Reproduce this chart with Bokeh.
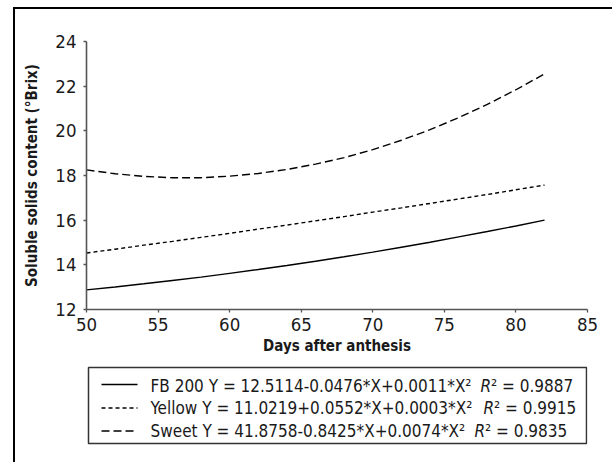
from bokeh.plotting import figure
from bokeh.layouts import column
from bokeh.models import FixedTicker, Range1d, InlineStyleSheet
from bokeh.core.properties import value
from bokeh.embed import file_html
from bokeh.resources import INLINE

# ---- data ----
days = [50, 52, 54, 56, 58, 60, 62, 64, 66, 68, 70, 72, 74, 76, 78, 80, 82]
fb200 = [12.88, 13.01, 13.15, 13.30, 13.45, 13.62, 13.79, 13.97, 14.16, 14.36,
         14.57, 14.79, 15.01, 15.25, 15.49, 15.74, 16.00]
yellow = [14.53, 14.70, 14.88, 15.05, 15.23, 15.41, 15.60, 15.78, 15.97, 16.16,
          16.36, 16.55, 16.75, 16.95, 17.15, 17.36, 17.57]
sweet = [18.25, 18.08, 17.96, 17.90, 17.90, 17.97, 18.09, 18.27, 18.51, 18.80,
         19.16, 19.58, 20.05, 20.59, 21.18, 21.84, 22.55]
x_ticks = [50, 55, 60, 65, 70, 75, 80, 85]
y_ticks = [12, 14, 16, 18, 20, 22, 24]
series_names = ["FB 200", "Yellow", "Sweet"]
equations = ["Y = 12.5114-0.0476*X+0.0011*X\u00b2",
             "Y = 11.0219+0.0552*X+0.0003*X\u00b2",
             "Y = 41.8758-0.8425*X+0.0074*X\u00b2"]
r_squared = ["0.9887", "0.9915", "0.9835"]

FONT = "DejaVu Sans Condensed"
INK = "#1a1a1a"
AXIS = "#555555"
dashes = ["solid", "4 3", "8 4"]

# outer panel frame lines painted as CSS backgrounds behind transparent canvases
FRAME_TOP = ("linear-gradient(#000, #000) 13px 7px / 2px 100% no-repeat, "
             "linear-gradient(#000, #000) 13px 7px / 100% 2px no-repeat, #fff")
FRAME_SIDE = "linear-gradient(#000, #000) 13px 0 / 2px 100% no-repeat, #fff"

# ---- chart ----
p = figure(width=612, height=362, output_backend="svg", toolbar_location=None,
           x_range=Range1d(50, 85), y_range=Range1d(12, 24),
           min_border_left=86, min_border_right=25, min_border_top=41,
           min_border_bottom=53)
p.outline_line_color = None
p.grid.grid_line_color = None
p.border_fill_color = None
p.background_fill_color = None
p.styles = {"background": FRAME_TOP}

for ys, dash in zip([fb200, yellow, sweet], dashes):
    p.line(days, ys, line_color="black", line_width=1.4, line_dash=dash)

for ax in (p.xaxis[0], p.yaxis[0]):
    ax.axis_line_color = AXIS
    ax.axis_line_width = 1.6
    ax.major_tick_line_color = AXIS
    ax.major_tick_line_width = 1.3
    ax.major_tick_in = 0
    ax.major_tick_out = 3
    ax.minor_tick_line_color = None
    ax.major_label_text_font = FONT
    ax.major_label_text_font_size = "18.5px"
    ax.major_label_text_color = INK
    ax.axis_label_text_font = FONT
    ax.axis_label_text_font_style = "bold"
    ax.axis_label_text_font_size = "15px"
    ax.axis_label_text_color = INK

p.xaxis.ticker = FixedTicker(ticks=x_ticks)
p.yaxis.ticker = FixedTicker(ticks=y_ticks)
p.xaxis.axis_label = "Days after anthesis"
p.yaxis.axis_label = "Soluble solids content (\u00b0Brix)"
p.xaxis.major_label_standoff = 5
p.yaxis.major_label_standoff = 7
p.xaxis.axis_label_standoff = 3
p.yaxis.axis_label_standoff = 11

# ---- legend panel (frame aligned with the chart frame; x in page pixels, y downward) ----
q = figure(width=612, height=100, output_backend="svg", toolbar_location=None,
           x_range=Range1d(86, 587), y_range=Range1d(100, 0),
           min_border=0, x_axis_type=None, y_axis_type=None)
q.outline_line_color = None
q.grid.grid_line_color = None
q.border_fill_color = None
q.background_fill_color = None
q.styles = {"background": FRAME_SIDE}

q.quad(left=[88], right=[586], top=[5], bottom=[81], fill_color=None,
       line_color="#333333", line_width=1.5)

line_y = [22, 45.5, 68.5]
text_y = [23, 45.5, 68]
r_x = [480, 483, 474]
for i in range(3):
    q.line([101, 137], [line_y[i], line_y[i]], line_color="black",
           line_width=1.4, line_dash=dashes[i])
q.text(x=[150] * 3, y=text_y,
       text=[f"{n} {e}" for n, e in zip(series_names, equations)],
       text_font=value(FONT), text_font_size="17px", text_color=INK,
       text_baseline="middle")
q.text(x=r_x, y=text_y, text=["R"] * 3,
       text_font=value(FONT), text_font_style="italic", text_font_size="17px",
       text_color=INK, text_baseline="middle")
q.text(x=[r + 10.5 for r in r_x], y=text_y,
       text=[f"\u00b2 = {r}" for r in r_squared],
       text_font=value(FONT), text_font_size="17px", text_color=INK,
       text_baseline="middle")

page = column(p, q, spacing=0,
              stylesheets=[InlineStyleSheet(css=":host { overflow: hidden !important; }")])

html = file_html(page, INLINE)
html = html.replace("</head>",
                    "<style>html, body { overflow: hidden !important; }</style></head>", 1)
open("out.html", "w").write(html)
